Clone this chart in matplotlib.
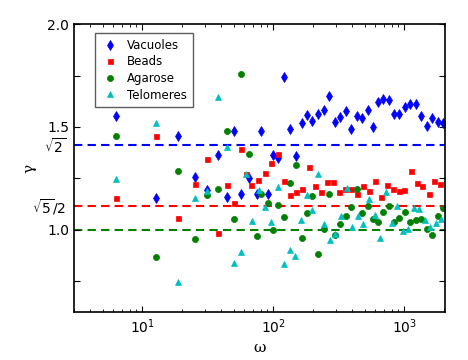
import numpy as np
import matplotlib
matplotlib.use("Agg")
import matplotlib.pyplot as plt
from matplotlib.ticker import FixedLocator, FixedFormatter

# gamma vs omega
omega_va = [6.3, 12.6, 18.8, 25.1, 31.4, 37.7, 44.0, 50.3, 56.5, 65, 74.5, 80.5, 90.5, 100,
            109, 121, 134, 149.5, 164.5, 180.5, 198.5, 219, 242.5, 267.5, 294.5, 323, 357,
            394.5, 434, 476, 526.5, 575, 631, 693, 762.5, 837, 919, 1016, 1115, 1227, 1347,
            1489, 1634, 1795, 1974]
vac_g = [1.555, 1.154, 1.458, 1.256, 1.192, 1.362, 1.162, 1.482, 1.175, 1.251, 1.175, 1.482,
         1.173, 1.364, 1.348, 1.741, 1.491, 1.357, 1.518, 1.558, 1.529, 1.561, 1.581, 1.653,
         1.522, 1.548, 1.578, 1.490, 1.553, 1.546, 1.584, 1.502, 1.622, 1.636, 1.633, 1.565,
         1.561, 1.599, 1.610, 1.612, 1.555, 1.505, 1.544, 1.524, 1.518]
agar_g = [1.458, 0.866, 1.287, 0.956, 1.167, 1.199, 1.482, 1.053, 1.757, 1.369, 0.971, 1.174,
          1.129, 0.998, 1.119, 1.061, 1.227, 1.315, 0.960, 1.081, 1.165, 0.883, 1.003, 1.174,
          0.976, 1.026, 1.065, 1.110, 1.200, 1.081, 1.118, 1.055, 1.040, 1.089, 1.117, 1.040,
          1.058, 1.085, 1.036, 1.047, 1.055, 1.003, 0.974, 1.065, 1.104]

bead_w = [6.3, 12.6, 18.8, 25.1, 31.4, 37.7, 44.0, 50.3, 56.5, 61.7, 68, 77, 87, 96, 109, 121,
          134, 149, 166.5, 187, 209, 231, 258.5, 286, 319, 353, 392.5, 436, 487, 542, 599, 666,
          736, 818, 909, 1003, 1123, 1249, 1371, 1532, 1693, 1883]
bead_g = [1.157, 1.458, 1.057, 1.223, 1.343, 0.987, 1.218, 1.129, 1.392, 1.272, 1.218, 1.240,
          1.276, 1.327, 1.369, 1.238, 1.170, 1.186, 1.199, 1.307, 1.215, 1.183, 1.231, 1.231,
          1.186, 1.199, 1.199, 1.175, 1.214, 1.189, 1.239, 1.159, 1.218, 1.197, 1.191, 1.194,
          1.285, 1.229, 1.215, 1.174, 1.239, 1.223]

telo_w = [6.3, 12.6, 18.8, 25.1, 31.4, 37.7, 44.0, 50.3, 56.5, 61.7, 69, 78, 87, 96.5, 109, 121,
          134, 146, 162, 180, 198.5, 220.5, 244, 268.5, 296, 327, 364, 401.5, 441.5, 487, 539,
          593.5, 654, 723, 804, 878, 972, 1071, 1176, 1300, 1427, 1578, 1745, 1916]
telo_g = [1.245, 1.518, 0.744, 1.155, 1.191, 1.644, 1.404, 0.838, 0.890, 1.272, 1.042, 1.194,
          1.110, 1.036, 1.207, 0.834, 0.903, 0.874, 1.049, 1.167, 1.094, 1.272, 1.028, 0.951,
          0.979, 1.065, 1.202, 1.016, 1.068, 1.028, 1.152, 1.073, 0.960, 1.182, 1.035, 1.117,
          0.995, 1.003, 1.105, 1.100, 1.049, 1.013, 1.035, 1.052]

ref_levels = [np.sqrt(2), np.sqrt(5) / 2, 1.0]
ref_colors = ["b", "r", "g"]

fig = plt.figure(figsize=(4.68, 3.6), dpi=100)
ax = fig.add_axes([0.158, 0.133, 0.793, 0.8])

for lev, c in zip(ref_levels, ref_colors):
    ax.axhline(lev, color=c, ls="--", lw=1.5, dashes=(4, 2.5), zorder=1)

mk = dict(ls="none", mew=0.5, zorder=2)
ax.plot(omega_va, vac_g, "d", color="b", mec="b", ms=5.5, label="Vacuoles", **mk)
ax.plot(bead_w, bead_g, "s", color="r", mec="r", ms=3.6, label="Beads", **mk)
ax.plot(omega_va, agar_g, "o", color="g", mec="g", ms=4.4, label="Agarose", **mk)
ax.plot(telo_w, telo_g, "^", color="c", mec="c", ms=5.0, label="Telomeres", **mk)

ax.set_xscale("log")
ax.set_xlim(3, 2048)
ax.set_ylim(0.6, 2.0)

ax.yaxis.set_major_locator(FixedLocator([0.75, 1.0, 1.25, 1.5, 1.75, 2.0]))
ax.yaxis.set_major_formatter(FixedFormatter(["", "1.0", "", "1.5", "", "2.0"]))
ax.yaxis.set_minor_locator(FixedLocator([np.sqrt(5) / 2, np.sqrt(2)]))
ax.yaxis.set_minor_formatter(FixedFormatter([r"$\sqrt{5}/2$", r"$\sqrt{2}$"]))

ax.tick_params(which="both", direction="in", top=True, right=True, labelsize=10)
ax.tick_params(which="major", length=4)
ax.tick_params(which="minor", length=2)
ax.tick_params(axis="y", which="minor", length=0, pad=6)
for s in ax.spines.values():
    s.set_linewidth(1.2)

ax.set_xlabel("ω", family="DejaVu Serif", fontsize=11)
ax.set_ylabel("γ", family="DejaVu Serif", fontsize=11)
ax.yaxis.set_label_coords(-0.1, 0.5)

leg = ax.legend(loc="upper left", bbox_to_anchor=(0.057, 0.969), borderaxespad=0,
                numpoints=1, fancybox=False, fontsize=8.5, labelspacing=0.3,
                handletextpad=0.6, handlelength=1.6, borderpad=0.5)
leg.get_frame().set_edgecolor("#333333")
leg.get_frame().set_linewidth(1.0)

fig.savefig("out.png", dpi=100)
